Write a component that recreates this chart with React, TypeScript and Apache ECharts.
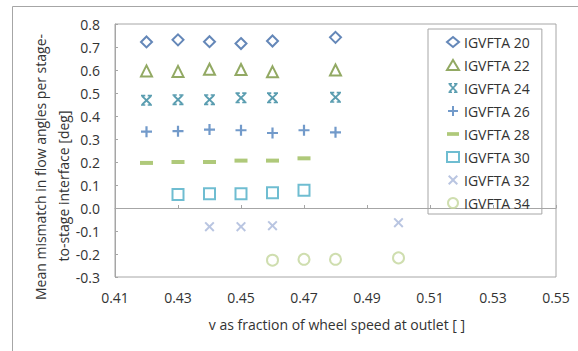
import React, { useEffect, useRef } from "react";
import * as echarts from "echarts";

// Speed ratio (v as fraction of wheel speed at outlet) at which each case was run
const X_MIN = 0.41;
const X_MAX = 0.55;
const X_STEP = 0.02;

const seriesNames = [
  "IGVFTA 20",
  "IGVFTA 22",
  "IGVFTA 24",
  "IGVFTA 26",
  "IGVFTA 28",
  "IGVFTA 30",
  "IGVFTA 32",
  "IGVFTA 34",
];

const igv20: [number, number][] = [
  [0.42, 0.722], [0.43, 0.731], [0.44, 0.723], [0.45, 0.715], [0.46, 0.726], [0.48, 0.742],
];
const igv22: [number, number][] = [
  [0.42, 0.596], [0.43, 0.594], [0.44, 0.603], [0.45, 0.602], [0.46, 0.592], [0.48, 0.6],
];
const igv24: [number, number][] = [
  [0.42, 0.468], [0.43, 0.471], [0.44, 0.471], [0.45, 0.479], [0.46, 0.479], [0.48, 0.481],
];
const igv26: [number, number][] = [
  [0.42, 0.332], [0.43, 0.334], [0.44, 0.341], [0.45, 0.338], [0.46, 0.326], [0.47, 0.338], [0.48, 0.329],
];
const igv28: [number, number][] = [
  [0.42, 0.196], [0.43, 0.2], [0.44, 0.2], [0.45, 0.206], [0.46, 0.206], [0.47, 0.216],
];
const igv30: [number, number][] = [
  [0.43, 0.059], [0.44, 0.062], [0.45, 0.062], [0.46, 0.066], [0.47, 0.077],
];
const igv32: [number, number][] = [
  [0.44, -0.081], [0.45, -0.081], [0.46, -0.077], [0.5, -0.064],
];
const igv34: [number, number][] = [
  [0.46, -0.227], [0.47, -0.223], [0.48, -0.223], [0.5, -0.217],
];

const allData = [igv20, igv22, igv24, igv26, igv28, igv30, igv32, igv34];

const colors = [
  "#3d69a6",
  "#77933c",
  "#31859c",
  "#4f81bd",
  "#9bbb59",
  "#4bacc6",
  "#a7b6d9",
  "#c3d69b",
];

// Marker glyphs
const PLUS = "path://M4,0H6V4H10V6H6V10H4V6H0V4H4Z";
const CROSS =
  "path://M0,1.4L1.4,0L5,3.6L8.6,0L10,1.4L6.4,5L10,8.6L8.6,10L5,6.4L1.4,10L0,8.6L3.6,5Z";
const STAR =
  "path://M1,1.9L2.1,0.8L5,3.8L7.9,0.8L9,1.9L6.1,5L9,8.1L7.9,9.2L5,6.2L2.1,9.2L1,8.1L3.9,5Z" +
  "M0.5,0H4V1.5H0.5ZM6,0H9.5V1.5H6ZM0.5,8.5H4V10H0.5ZM6,8.5H9.5V10H6Z";
const DASH = "path://M0,0H13V4H0Z";

type Marker = {
  symbol: string;
  size: number | [number, number];
  hollow: boolean;
};

const markers: Marker[] = [
  { symbol: "diamond", size: 11, hollow: true },
  { symbol: "triangle", size: 11, hollow: true },
  { symbol: STAR, size: 11, hollow: false },
  { symbol: PLUS, size: 11, hollow: false },
  { symbol: "rect", size: [13, 4], hollow: false },
  { symbol: "rect", size: 11, hollow: true },
  { symbol: CROSS, size: 10, hollow: false },
  { symbol: "circle", size: 11, hollow: true },
];

const FONT = "Open Sans";
const TEXT_COLOR = "#333333";
const FRAME = "#a6a6a6";

export default function App() {
  const ref = useRef<HTMLDivElement>(null);

  useEffect(() => {
    if (!ref.current) return;
    const chart = echarts.init(ref.current, undefined, { renderer: "svg" });

    const series = seriesNames.map((name, i) => {
      const m = markers[i];
      return {
        name,
        type: "scatter",
        symbol: m.symbol,
        symbolSize: m.size,
        data: allData[i].map(([x, y]) => [x - X_MIN, y]),
        itemStyle: m.hollow
          ? { color: "#ffffff", borderColor: colors[i], borderWidth: 2 }
          : { color: colors[i], borderWidth: 0 },
      };
    });

    const legendData = seriesNames.map((name, i) =>
      i === 4 ? { name, icon: DASH } : { name }
    );

    chart.setOption({
      animation: false,
      backgroundColor: "#ffffff",
      textStyle: { fontFamily: FONT },
      grid: {
        left: 115,
        right: 22,
        top: 24,
        bottom: 74,
        show: true,
        borderColor: FRAME,
        borderWidth: 1,
      },
      xAxis: {
        type: "value",
        min: 0,
        max: X_MAX - X_MIN,
        interval: X_STEP,
        axisLine: { show: true, lineStyle: { color: FRAME } },
        axisTick: { show: true, inside: true, length: 3, lineStyle: { color: FRAME } },
        splitLine: { show: false },
        axisLabel: {
          color: TEXT_COLOR,
          fontSize: 14,
          fontFamily: FONT,
          margin: 13,
          formatter: (v: number) => (v + X_MIN).toFixed(2),
        },
      },
      yAxis: {
        type: "value",
        min: -0.3,
        max: 0.8,
        interval: 0.1,
        axisLine: { show: true, lineStyle: { color: FRAME } },
        axisTick: { show: true, inside: true, length: 3, lineStyle: { color: FRAME } },
        splitLine: { show: false },
        axisLabel: {
          color: TEXT_COLOR,
          fontSize: 14,
          fontFamily: FONT,
          margin: 15,
          formatter: (v: number) => v.toFixed(1),
        },
      },
      legend: {
        orient: "vertical",
        left: 428,
        top: 29,
        data: legendData,
        itemWidth: 12,
        itemHeight: 10,
        itemGap: 7,
        padding: [5, 12, 3, 18],
        borderColor: FRAME,
        borderWidth: 1,
        textStyle: {
          color: TEXT_COLOR,
          fontSize: 14,
          fontFamily: FONT,
          lineHeight: 16,
        },
      },
      graphic: [
        {
          type: "rect",
          silent: true,
          z: -10,
          shape: { x: 12.5, y: 6.5, width: 700, height: 500 },
          style: { fill: "none", stroke: FRAME, lineWidth: 1 },
        },
        {
          type: "text",
          x: 40,
          y: 167,
          rotation: Math.PI / 2,
          style: {
            text: "Mean mismatch in flow angles per stage-",
            fill: TEXT_COLOR,
            font: `14px "${FONT}"`,
            align: "center",
            verticalAlign: "middle",
          },
        },
        {
          type: "text",
          x: 63,
          y: 186,
          rotation: Math.PI / 2,
          style: {
            text: "to-stage interface [deg]",
            fill: TEXT_COLOR,
            font: `14px "${FONT}"`,
            align: "center",
            verticalAlign: "middle",
          },
        },
        {
          type: "text",
          x: 337,
          y: 324,
          style: {
            text: "v as fraction of wheel speed at outlet [ ]",
            fill: TEXT_COLOR,
            font: `14px "${FONT}"`,
            align: "center",
            verticalAlign: "middle",
          },
        },
      ],
      series,
    });

    return () => chart.dispose();
  }, []);

  return (
    <div
      ref={ref}
      style={{ position: "fixed", left: 0, top: 0, width: 578, height: 351 }}
    />
  );
}
